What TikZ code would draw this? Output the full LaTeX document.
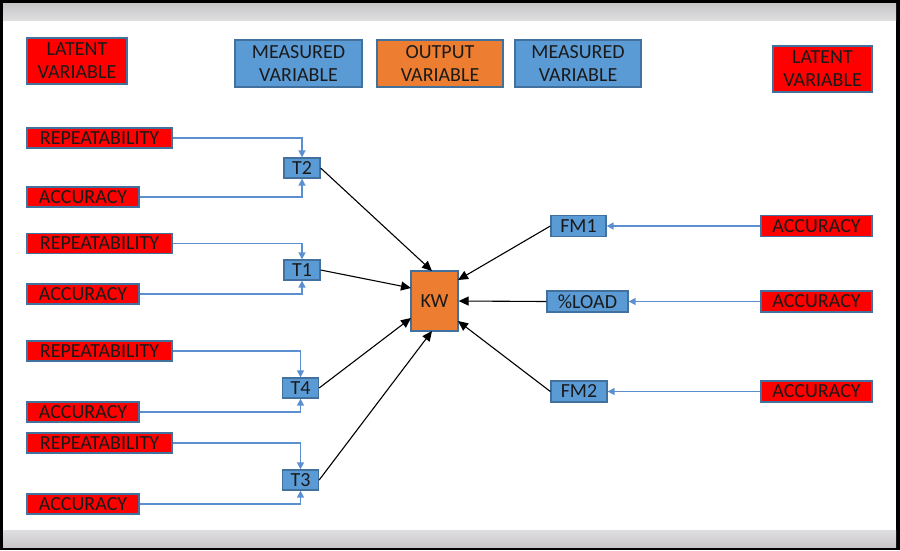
\documentclass[tikz,border=0pt]{standalone}
\usepackage{fontspec}
\setmainfont{Carlito}
\usetikzlibrary{arrows.meta}
\definecolor{bord}{HTML}{41719C}
\definecolor{bfill}{HTML}{5B9BD5}
\definecolor{ofill}{HTML}{ED7D31}
\definecolor{rfill}{HTML}{FF0000}
\definecolor{bline}{HTML}{5B8FD0}
\definecolor{txt}{HTML}{1A1A1A}
\definecolor{band}{HTML}{C9C7CA}
\tikzset{
  box/.style={draw=bord, line width=1.3pt, inner sep=0pt, text=txt,
    font=\fontsize{20}{23}\selectfont, align=center},
  latent/.style={box, fill=rfill},
  meas/.style={box, fill=bfill},
  outp/.style={box, fill=ofill},
  bluearrow/.style={draw=bline, line width=1.5pt, -{Triangle[width=7pt,length=7pt]}},
  blackarrow/.style={draw=black, line width=1.1pt, -{Triangle[width=9pt,length=10pt]}},
}
\begin{document}
\begin{tikzpicture}[x=1pt,y=-1pt]
\useasboundingbox (0,0) rectangle (900,550);
% frame
\fill[black] (0,0) rectangle (900,550);
\fill[white] (3,20) rectangle (896,530);
\shade[top color=band!80!black!60, bottom color=band!60!white] (3,3) rectangle (896,20);
\shade[top color=band!60!white, bottom color=band] (3,530) rectangle (896,547);

% legend
\node[latent, minimum width=100pt, minimum height=46pt] (leg1) at (77,61) {LATENT\\VARIABLE};
\node[meas, minimum width=127pt, minimum height=47pt] (leg2) at (298.5,63.5) {MEASURED\\VARIABLE};
\node[outp, minimum width=126pt, minimum height=47pt] (leg3) at (440,63.5) {OUTPUT\\VARIABLE};
\node[meas, minimum width=126pt, minimum height=47pt] (leg4) at (578,63.5) {MEASURED\\VARIABLE};
\node[latent, minimum width=99pt, minimum height=46pt] (leg5) at (822.5,69) {LATENT\\VARIABLE};

% left latent boxes
\tikzset{rep/.style={latent, minimum width=145pt, minimum height=20pt},
         acc/.style={latent, minimum width=112pt, minimum height=20pt},
         tbox/.style={meas, minimum width=36pt, minimum height=20pt}}
\node[rep] (r2) at (99.5,138) {REPEATABILITY};
\node[acc] (a2) at (83,197) {ACCURACY};
\node[rep] (r1) at (99.5,243.5) {REPEATABILITY};
\node[acc] (a1) at (83,294) {ACCURACY};
\node[rep] (r4) at (99.5,351) {REPEATABILITY};
\node[acc] (a4) at (83,412) {ACCURACY};
\node[rep] (r3) at (99.5,443) {REPEATABILITY};
\node[acc] (a3) at (83,504) {ACCURACY};

\node[tbox] (t2) at (302,168) {T2};
\node[tbox] (t1) at (302,270) {T1};
\node[tbox] (t4) at (300.5,388) {T4};
\node[tbox] (t3) at (300.5,480) {T3};

% center
\node[outp, minimum width=47pt, minimum height=60pt] (kw) at (434.5,301) {KW};

% right
\node[meas, minimum width=55pt, minimum height=21pt] (fm1) at (578.5,226) {FM1};
\node[meas, minimum width=81pt, minimum height=21pt] (load) at (587.5,301.5) {\%LOAD};
\node[meas, minimum width=56pt, minimum height=21pt] (fm2) at (579,391.5) {FM2};
\tikzset{racc/.style={latent, minimum width=111pt, minimum height=21pt}}
\node[racc] (ra1) at (816.5,226) {ACCURACY};
\node[racc] (ra2) at (816.5,301.5) {ACCURACY};
\node[racc] (ra3) at (816.5,391.5) {ACCURACY};

% blue connectors left
\draw[bluearrow] (r2.east) -| (t2.north);
\draw[bluearrow] (a2.east) -| (t2.south);
\draw[bluearrow] (r1.east) -| (t1.north);
\draw[bluearrow] (a1.east) -| (t1.south);
\draw[bluearrow] (r4.east) -| (t4.north);
\draw[bluearrow] (a4.east) -| (t4.south);
\draw[bluearrow] (r3.east) -| (t3.north);
\draw[bluearrow] (a3.east) -| (t3.south);

% blue connectors right
\draw[bluearrow] (ra1.west) -- (fm1.east);
\draw[bluearrow] (ra2.west) -- (load.east);
\draw[bluearrow] (ra3.west) -- (fm2.east);

% black arrows into KW
\coordinate (k2) at (432,271);
\coordinate (k1) at (411,288);
\coordinate (k4) at (411,318);
\coordinate (k3) at (432,331);
\coordinate (kf1) at (458,280);
\coordinate (kf2) at (458,321);
\draw[blackarrow] (t2.east) -- (k2);
\draw[blackarrow] (t1.east) -- (k1);
\draw[blackarrow] (t4.east) -- (k4);
\draw[blackarrow] (t3.east) -- (k3);
\draw[blackarrow] (fm1.west) -- (kf1);
\draw[blackarrow] (load.west) -- (kw.east);
\draw[blackarrow] (fm2.west) -- (kf2);
\end{tikzpicture}
\end{document}
